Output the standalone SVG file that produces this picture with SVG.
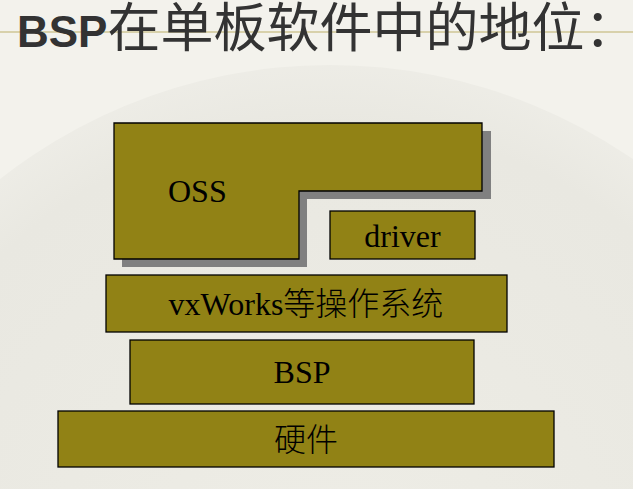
<svg xmlns="http://www.w3.org/2000/svg" width="633" height="489" viewBox="0 0 633 489">
  <defs>
    <style>
      .box { fill: #918215; stroke: #000; stroke-width: 1.3; }
      .shadow { fill: #808080; }
      .lbl { font-family: "Liberation Serif", "Noto Sans CJK SC", serif; font-size: 32px; fill: #000; }
      .cjk { font-family: "Noto Sans CJK SC", sans-serif; font-weight: 300; }
      .title { fill: #333; }
    </style>
    <radialGradient id="fan" cx="330" cy="600" r="560" gradientUnits="userSpaceOnUse">
      <stop offset="0" stop-color="#eeede6"/>
      <stop offset="0.85" stop-color="#e9e8e1"/>
      <stop offset="1" stop-color="#efeee8"/>
    </radialGradient>
  </defs>

  <g id="background">
    <rect x="0" y="0" width="633" height="489" fill="#f3f2ec"/>
    <circle cx="330" cy="600" r="535" fill="url(#fan)"/>
    <line x1="0" y1="32" x2="633" y2="32" stroke="#d8d1ab" stroke-width="2"/>
  </g>

  <g id="title">
    <text x="17" y="47" class="title"><tspan font-family="Liberation Sans, Arial, sans-serif" font-weight="bold" font-size="44">BSP</tspan><tspan font-family="Noto Sans CJK SC, sans-serif" font-size="53">在单板软件中的地位：</tspan></text>
  </g>

  <g id="oss">
    <path class="shadow" d="M122,131 H491 V199 H307 V267 H122 Z"/>
    <path class="box" d="M114,123 H482 V191 H299 V259 H114 Z"/>
    <text x="168" y="202" class="lbl">OSS</text>
  </g>

  <g id="driver">
    <rect class="box" x="330" y="211" width="145" height="48"/>
    <text x="402.5" y="247" class="lbl" text-anchor="middle">driver</text>
  </g>

  <g id="os">
    <rect class="box" x="106" y="275" width="401" height="57"/>
    <text x="306" y="315" class="lbl" text-anchor="middle">vxWorks<tspan class="cjk">等操作系统</tspan></text>
  </g>

  <g id="bsp">
    <rect class="box" x="130" y="340" width="344" height="64"/>
    <text x="302" y="383" class="lbl" text-anchor="middle">BSP</text>
  </g>

  <g id="hardware">
    <rect class="box" x="58" y="411" width="496" height="56"/>
    <text x="306" y="451" class="lbl cjk" text-anchor="middle">硬件</text>
  </g>

  <g id="connectors"></g>
</svg>
